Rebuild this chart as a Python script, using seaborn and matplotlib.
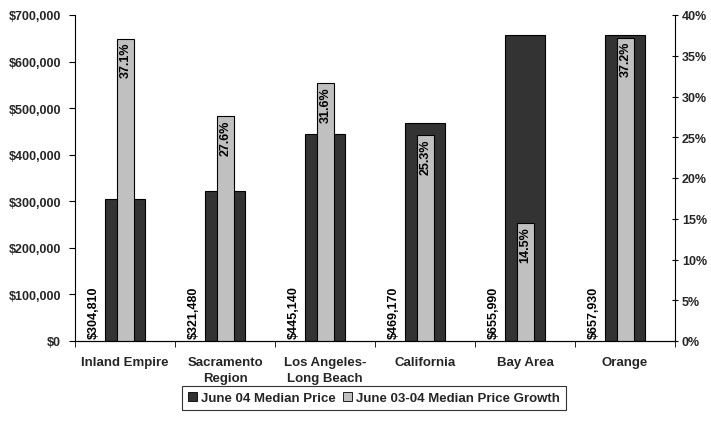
import matplotlib
matplotlib.use('Agg')
import matplotlib.pyplot as plt
import matplotlib.patches as mpatches
import matplotlib.ticker as mticker
import seaborn as sns
import pandas as pd

regions = ['Inland Empire', 'Sacramento\nRegion', 'Los Angeles-\nLong Beach',
           'California', 'Bay Area', 'Orange']
median_price = [304810, 321480, 445140, 469170, 655990, 657930]
price_growth = [37.1, 27.6, 31.6, 25.3, 14.5, 37.2]

DARK = '#333333'
LIGHT = '#c0c0c0'

sns.set_style('white')
plt.rcParams['font.family'] = ['Liberation Sans', 'DejaVu Sans']

df = pd.DataFrame({'Region': regions, 'Price': median_price, 'Growth': price_growth})

fig = plt.figure(figsize=(7.11, 4.31), dpi=100)
ax = fig.add_axes([75 / 711, 1 - 342 / 431, 600 / 711, 326 / 431])
ax2 = ax.twinx()

sns.barplot(data=df, x='Region', y='Price', ax=ax, color=DARK, width=0.4,
            edgecolor='black', linewidth=0.8, saturation=1)
sns.barplot(data=df, x='Region', y='Growth', ax=ax2, color=LIGHT, width=0.17,
            edgecolor='black', linewidth=0.8, saturation=1)

ax.set_xlim(-0.5, len(regions) - 0.5)
ax.set_ylim(0, 700000)
ax2.set_ylim(0, 40)
ax.yaxis.set_major_locator(mticker.MultipleLocator(100000))
ax.yaxis.set_major_formatter(mticker.FuncFormatter(lambda v, p: f'${v:,.0f}'))
ax2.yaxis.set_major_locator(mticker.MultipleLocator(5))
ax2.yaxis.set_major_formatter(mticker.FuncFormatter(lambda v, p: f'{v:.0f}%'))

# price labels beside the dark bars, growth labels inside the top of light bars
for i, (price, growth) in enumerate(zip(median_price, price_growth)):
    ax.text(i - 0.315, 6000, f'${price:,}', rotation=90, ha='center', va='bottom',
            fontsize=9, fontweight='bold', color='black')
    ax2.text(i + 0.005, growth - 0.4, f'{growth}%', rotation=90, ha='center', va='top',
             fontsize=9, fontweight='bold', color='black')

for a in (ax, ax2):
    a.set_xlabel('')
    a.set_ylabel('')
    a.spines['top'].set_visible(False)
    for side in ['left', 'right', 'bottom']:
        a.spines[side].set_color('black')
        a.spines[side].set_linewidth(0.8)

ax.spines['right'].set_visible(False)
ax2.spines['left'].set_visible(False)

ax.set_xticks(range(len(regions)))
ax.set_xticklabels(regions, fontsize=9.5, fontweight='bold', linespacing=1.45)
ax.xaxis.set_minor_locator(mticker.FixedLocator([i - 0.5 for i in range(len(regions) + 1)]))
ax.tick_params(axis='x', which='major', length=0, pad=11)
ax.tick_params(axis='x', which='minor', length=4, direction='out', color='black', bottom=True)
ax.tick_params(axis='y', length=4, direction='out', color='black', left=True,
               labelsize=9, pad=6)
ax2.tick_params(axis='y', length=4, direction='inout', color='black', right=True,
                labelsize=9, pad=3)
for lbl in ax.get_yticklabels() + ax2.get_yticklabels():
    lbl.set_fontweight('bold')

handles = [
    mpatches.Patch(facecolor=DARK, edgecolor='black', linewidth=0.6,
                   label='June 04 Median Price'),
    mpatches.Patch(facecolor=LIGHT, edgecolor='black', linewidth=0.6,
                   label='June 03-04 Median Price Growth'),
]
legend = fig.legend(handles=handles, loc='center', bbox_to_anchor=(374 / 711, 1 - 399 / 431),
                    ncol=2, frameon=True, fancybox=False,
                    handlelength=0.7, handleheight=0.7, handletextpad=0.3,
                    columnspacing=0.5, borderpad=0.45, borderaxespad=0,
                    prop={'weight': 'bold', 'size': 9.5})
legend.get_frame().set_edgecolor('black')
legend.get_frame().set_linewidth(0.8)

fig.savefig('out.png', dpi=100)
